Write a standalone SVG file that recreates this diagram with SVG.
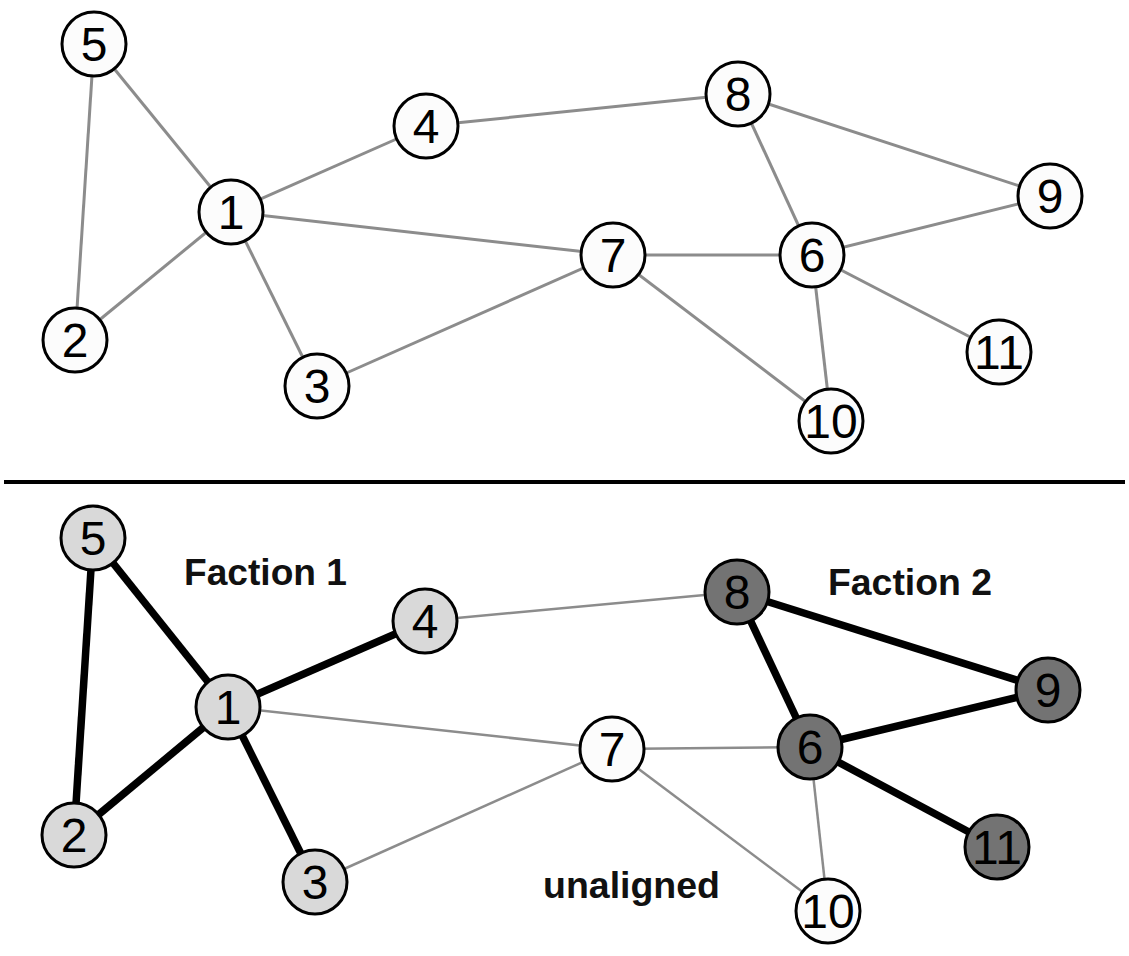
<svg xmlns="http://www.w3.org/2000/svg" width="1129" height="956" viewBox="0 0 1129 956">
<style>
.e{stroke:#8c8c8c;stroke-width:3;fill:none}
.eb{stroke:#8c8c8c;stroke-width:2.5;fill:none}
.k{stroke:#000;stroke-width:7.5;fill:none}
.n circle{stroke:#000;stroke-width:3}
.w circle{fill:#fcfcfc}
.l circle{fill:#d9d9d9}
.d circle{fill:#737373}
.n text{font-family:"Liberation Sans",Arial,sans-serif;font-size:48px;text-anchor:middle;fill:#000}
.lab{font-family:"Liberation Sans",Arial,sans-serif;font-weight:bold;font-size:36px;fill:#111}
</style>
<rect width="1129" height="956" fill="#fff"/>
<g id="connectors-top">
<line class="e" x1="94" y1="44" x2="231" y2="212"/>
<line class="e" x1="94" y1="44" x2="75" y2="340"/>
<line class="e" x1="231" y1="212" x2="426" y2="126"/>
<line class="e" x1="231" y1="212" x2="75" y2="340"/>
<line class="e" x1="231" y1="212" x2="317" y2="386"/>
<line class="e" x1="231" y1="212" x2="613" y2="255"/>
<line class="e" x1="426" y1="126" x2="738" y2="94"/>
<line class="e" x1="738" y1="94" x2="812" y2="255"/>
<line class="e" x1="738" y1="94" x2="1050" y2="196"/>
<line class="e" x1="613" y1="255" x2="812" y2="255"/>
<line class="e" x1="613" y1="255" x2="317" y2="386"/>
<line class="e" x1="613" y1="255" x2="831" y2="421"/>
<line class="e" x1="812" y1="255" x2="1050" y2="196"/>
<line class="e" x1="812" y1="255" x2="999" y2="352"/>
<line class="e" x1="812" y1="255" x2="831" y2="421"/>
</g>
<g id="connectors-bottom">
<line class="k" x1="93" y1="538" x2="228" y2="707"/>
<line class="k" x1="93" y1="538" x2="74" y2="835"/>
<line class="k" x1="228" y1="707" x2="425" y2="621"/>
<line class="k" x1="228" y1="707" x2="74" y2="835"/>
<line class="k" x1="228" y1="707" x2="315" y2="882"/>
<line class="eb" x1="228" y1="707" x2="612" y2="749"/>
<line class="eb" x1="425" y1="621" x2="737" y2="592"/>
<line class="k" x1="737" y1="592" x2="810" y2="747"/>
<line class="k" x1="737" y1="592" x2="1048" y2="690"/>
<line class="eb" x1="612" y1="749" x2="810" y2="747"/>
<line class="eb" x1="612" y1="749" x2="315" y2="882"/>
<line class="eb" x1="612" y1="749" x2="828" y2="911"/>
<line class="k" x1="810" y1="747" x2="1048" y2="690"/>
<line class="k" x1="810" y1="747" x2="997" y2="847"/>
<line class="eb" x1="810" y1="747" x2="828" y2="911"/>
</g>
<line id="divider" x1="4" y1="482" x2="1125" y2="482" stroke="#000" stroke-width="4"/>
<g id="t1" class="n w"><circle cx="231" cy="212" r="32"/><text x="231" y="229">1</text></g>
<g id="t2" class="n w"><circle cx="75" cy="340" r="32"/><text x="75" y="357">2</text></g>
<g id="t3" class="n w"><circle cx="317" cy="386" r="32"/><text x="317" y="403">3</text></g>
<g id="t4" class="n w"><circle cx="426" cy="126" r="32"/><text x="426" y="143">4</text></g>
<g id="t5" class="n w"><circle cx="94" cy="44" r="32"/><text x="94" y="61">5</text></g>
<g id="t6" class="n w"><circle cx="812" cy="255" r="32"/><text x="812" y="272">6</text></g>
<g id="t7" class="n w"><circle cx="613" cy="255" r="32"/><text x="613" y="272">7</text></g>
<g id="t8" class="n w"><circle cx="738" cy="94" r="32"/><text x="738" y="111">8</text></g>
<g id="t9" class="n w"><circle cx="1050" cy="196" r="32"/><text x="1050" y="213">9</text></g>
<g id="t10" class="n w"><circle cx="831" cy="421" r="32"/><text x="831" y="438">10</text></g>
<g id="t11" class="n w"><circle cx="999" cy="352" r="32"/><text x="999" y="369">11</text></g>
<g id="b1" class="n l"><circle cx="228" cy="707" r="32"/><text x="228" y="724">1</text></g>
<g id="b2" class="n l"><circle cx="74" cy="835" r="32"/><text x="74" y="852">2</text></g>
<g id="b3" class="n l"><circle cx="315" cy="882" r="32"/><text x="315" y="899">3</text></g>
<g id="b4" class="n l"><circle cx="425" cy="621" r="32"/><text x="425" y="638">4</text></g>
<g id="b5" class="n l"><circle cx="93" cy="538" r="32"/><text x="93" y="555">5</text></g>
<g id="b6" class="n d"><circle cx="810" cy="747" r="32"/><text x="810" y="764">6</text></g>
<g id="b7" class="n w"><circle cx="612" cy="749" r="32"/><text x="612" y="766">7</text></g>
<g id="b8" class="n d"><circle cx="737" cy="592" r="32"/><text x="737" y="609">8</text></g>
<g id="b9" class="n d"><circle cx="1048" cy="690" r="32"/><text x="1048" y="707">9</text></g>
<g id="b10" class="n w"><circle cx="828" cy="911" r="32"/><text x="828" y="928">10</text></g>
<g id="b11" class="n d"><circle cx="997" cy="847" r="32"/><text x="997" y="864">11</text></g>
<g id="labels">
<text class="lab" x="184" y="585" textLength="163" lengthAdjust="spacingAndGlyphs">Faction 1</text>
<text class="lab" x="828" y="595" textLength="164" lengthAdjust="spacingAndGlyphs">Faction 2</text>
<text class="lab" x="543" y="898" textLength="177" lengthAdjust="spacingAndGlyphs">unaligned</text>
</g>
</svg>
